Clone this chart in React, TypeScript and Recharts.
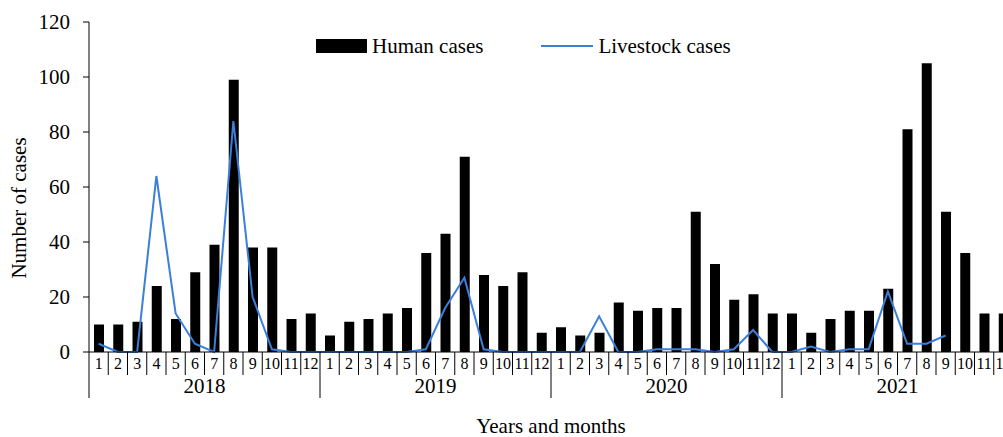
import { ComposedChart, Bar, Line, XAxis, YAxis, Legend } from "recharts";

const FONT = "'Liberation Serif', 'Times New Roman', serif";
const LINE_COLOR = "#3b7fdd";

const years = ["2018", "2019", "2020", "2021"];
const months = ["1", "2", "3", "4", "5", "6", "7", "8", "9", "10", "11", "12"];

const humanCases = [
  10, 10, 11, 24, 12, 29, 39, 99, 38, 38, 12, 14,
  6, 11, 12, 14, 16, 36, 43, 71, 28, 24, 29, 7,
  9, 6, 7, 18, 15, 16, 16, 51, 32, 19, 21, 14,
  14, 7, 12, 15, 15, 23, 81, 105, 51, 36, 14, 14,
];

const livestockCases: (number | null)[] = [
  3, 0, 0, 64, 14, 3, 0, 84, 20, 1, 0, 0,
  0, 0, 0, 0, 0, 1, 16, 27, 1, 0, 0, 0,
  0, 0, 13, 0, 0, 1, 1, 1, 0, 1, 8, 0,
  0, 2, 0, 1, 1, 22, 3, 3, 6, null, null, null,
];

const yTicks = [0, 20, 40, 60, 80, 100, 120];

const data = humanCases.map((h, i) => ({
  key: `${years[Math.floor(i / 12)]}-${months[i % 12]}`,
  human: h,
  livestock: livestockCases[i],
}));

// the plot runs a little past the window on the right, like the original
const CHART_W = 1018;
const CHART_H = 437;
const Y_AXIS_W = 89;
const RIGHT = 5;
const BAND = (CHART_W - Y_AXIS_W - RIGHT) / data.length;

const MonthTick = (props: any) => {
  const { x, y, index } = props;
  const m = index % 12;
  const yr = Math.floor(index / 12);
  const right = x + BAND / 2;
  return (
    <g>
      {index === 0 && (
        <line x1={x - BAND / 2} x2={x - BAND / 2} y1={y} y2={y + 46} stroke="#000" />
      )}
      <line x1={right} x2={right} y1={y} y2={m === 11 ? y + 46 : y + 23} stroke="#000" />
      <text x={x} y={y + 17} textAnchor="middle" fontSize={16} fontFamily={FONT} fill="#000">
        {months[m]}
      </text>
      {m === 5 && (
        <text x={right} y={y + 41} textAnchor="middle" fontSize={21} fontFamily={FONT} fill="#000">
          {years[yr]}
        </text>
      )}
    </g>
  );
};

const renderLegend = () => (
  <div
    style={{
      display: "flex",
      alignItems: "center",
      fontFamily: FONT,
      fontSize: 21,
      color: "#000",
      whiteSpace: "nowrap",
      lineHeight: "24px",
    }}
  >
    <span style={{ display: "inline-block", width: 51, height: 14, background: "#000", marginRight: 5 }} />
    <span>Human cases</span>
    <span
      style={{ display: "inline-block", width: 52, height: 2, background: LINE_COLOR, marginLeft: 58, marginRight: 5 }}
    />
    <span>Livestock cases</span>
  </div>
);

export default function App() {
  return (
    <>
      {/* drop the default body margin so the chart fills the window exactly */}
      <style>{"body{margin:0}"}</style>
      <div style={{ width: 1003, height: CHART_H, overflow: "hidden" }}>
        <ComposedChart
          width={CHART_W}
          height={CHART_H}
          data={data}
          margin={{ top: 22, right: RIGHT, bottom: 0, left: 0 }}
        >
          <XAxis
            dataKey="key"
            interval={0}
            height={85}
            tickSize={0}
            tickMargin={0}
            tickLine={false}
            tick={<MonthTick />}
            axisLine={{ stroke: "#000" }}
            label={{
              content: (p: any) => {
                const vb = p.viewBox;
                return (
                  <text
                    x={vb.x + vb.width / 2}
                    y={vb.y + 81}
                    textAnchor="middle"
                    fontSize={21}
                    fontFamily={FONT}
                    fill="#000"
                  >
                    Years and months
                  </text>
                );
              },
            }}
          />
          <YAxis
            width={Y_AXIS_W}
            domain={[0, 120]}
            ticks={yTicks}
            interval={0}
            tickSize={6}
            tickMargin={13}
            axisLine={{ stroke: "#000" }}
            tickLine={{ stroke: "#000" }}
            tick={{ fill: "#000", fontSize: 21, fontFamily: FONT }}
            label={{
              content: () => (
                <text
                  x={19}
                  y={208}
                  transform="rotate(-90 19 208)"
                  textAnchor="middle"
                  dominantBaseline="central"
                  fontSize={21}
                  fontFamily={FONT}
                  fill="#000"
                >
                  Number of cases
                </text>
              ),
            }}
          />
          <Legend
            content={renderLegend}
            layout="horizontal"
            verticalAlign="middle"
            wrapperStyle={{ top: 34, left: 316, width: "auto" }}
          />
          <Bar dataKey="human" name="Human cases" fill="#000" barSize={10} isAnimationActive={false} />
          <Line
            dataKey="livestock"
            name="Livestock cases"
            type="linear"
            stroke={LINE_COLOR}
            strokeWidth={2}
            dot={false}
            activeDot={false}
            isAnimationActive={false}
            connectNulls={false}
          />
        </ComposedChart>
      </div>
    </>
  );
}
